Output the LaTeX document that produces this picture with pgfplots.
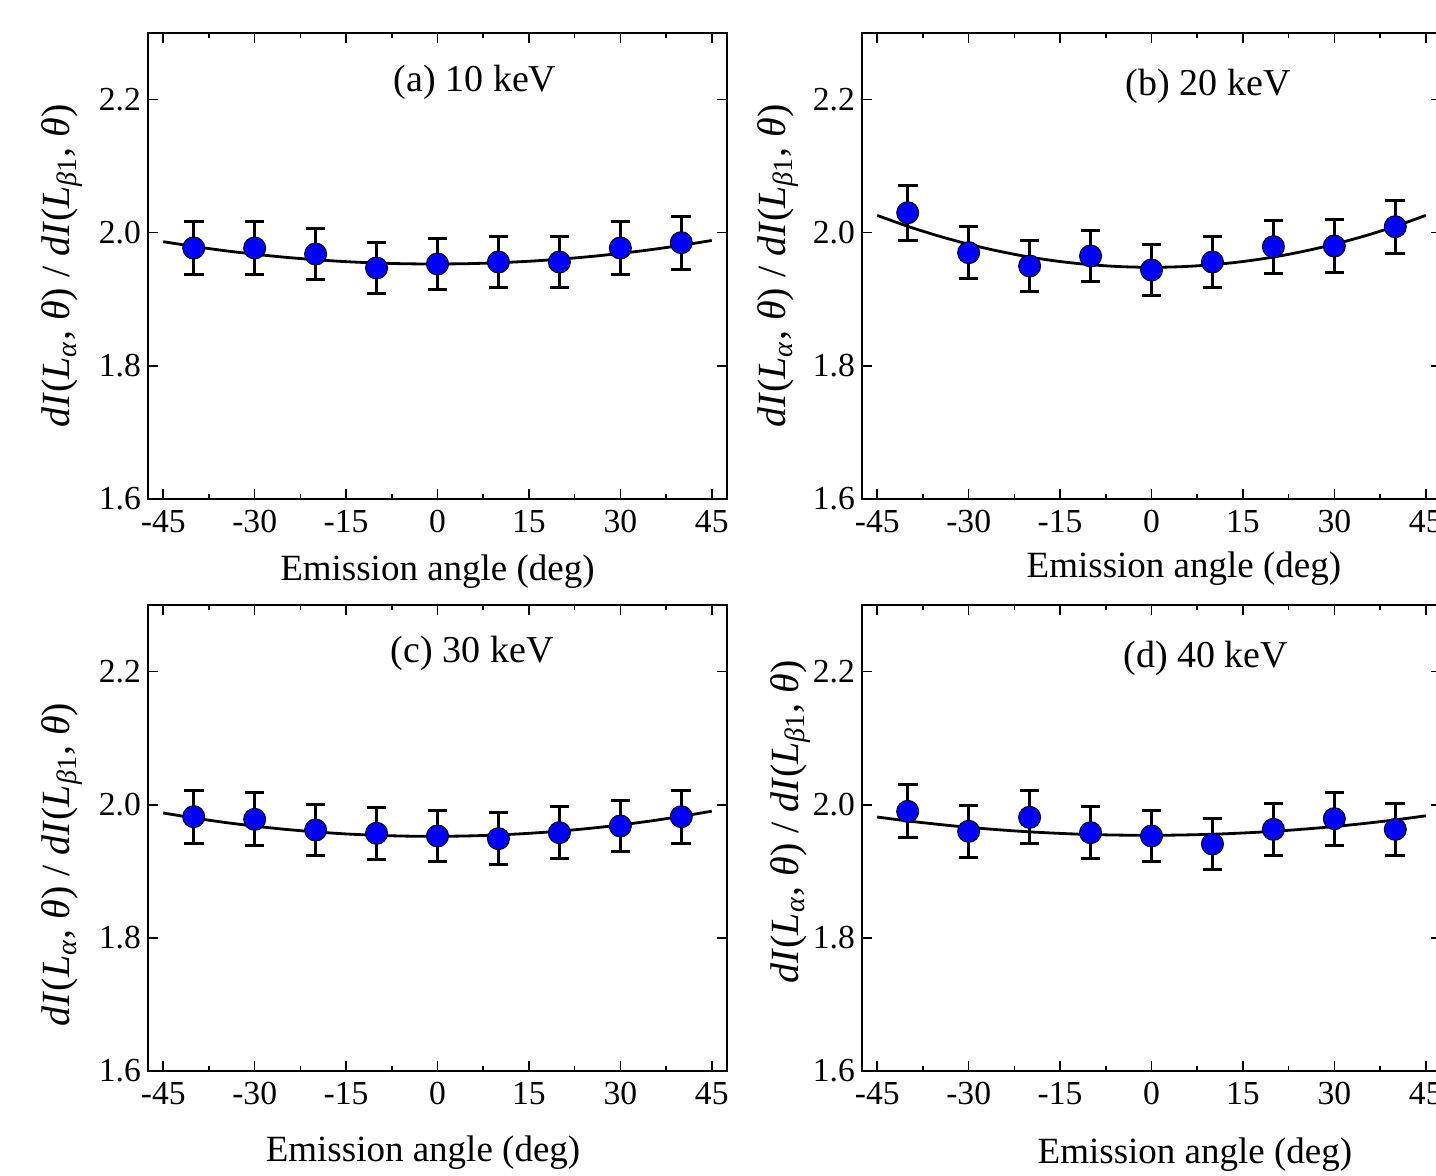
\documentclass[border=0pt]{standalone}
\usepackage{pgfplots}
\usepackage{pgfplotstable}
\pgfplotsset{compat=1.18}
\usepackage{fontspec}
\setmainfont{Liberation Serif}
\definecolor{ptblue}{RGB}{0,0,255}

\pgfplotstableread{
x y e
-40 1.977 0.040
-30 1.977 0.040
-20 1.968 0.039
-10 1.947 0.039
0 1.953 0.039
10 1.956 0.039
20 1.956 0.039
30 1.977 0.040
40 1.985 0.040
}\dataA
\pgfplotstableread{
x y e
-40 2.030 0.041
-30 1.970 0.039
-20 1.950 0.039
-10 1.965 0.039
0 1.944 0.039
10 1.956 0.039
20 1.979 0.040
30 1.980 0.040
40 2.009 0.040
}\dataB
\pgfplotstableread{
x y e
-40 1.982 0.040
-30 1.978 0.040
-20 1.962 0.039
-10 1.957 0.039
0 1.953 0.039
10 1.949 0.039
20 1.958 0.039
30 1.968 0.039
40 1.982 0.040
}\dataC
\pgfplotstableread{
x y e
-40 1.990 0.040
-30 1.960 0.039
-20 1.981 0.040
-10 1.958 0.039
0 1.953 0.039
10 1.941 0.039
20 1.963 0.039
30 1.979 0.040
40 1.963 0.039
}\dataD

\newcommand{\ylab}{\textit{dI}(\textit{L}\textsubscript{\textit{α}}, \textit{θ}) / \textit{dI}(\textit{L}\textsubscript{\textit{β}1}, \textit{θ})}

\pgfplotsset{
  panel/.style={
    scale only axis, width=289.5pt, height=233pt,
    anchor=south west,
    xmin=-47.5, xmax=47.5, ymin=1.6, ymax=2.3,
    xtick={-45,-30,-15,0,15,30,45},
    xticklabels={-45,-30,-15,0,15,30,45},
    minor x tick num=1,
    ytick={1.6,1.8,2.0,2.2},
    yticklabels={1.6,1.8,2.0,2.2},
    tick align=inside,
    major tick length=5pt, minor tick length=2.5pt,
    every tick/.style={black, line width=0.8pt},
    axis line style={line width=0.9pt},
    tick label style={font=\fontsize{16.8}{19}\selectfont},
    xticklabel style={yshift=-2pt},
    xlabel style={font=\fontsize{18.5}{22}\selectfont, anchor=center},
    ylabel style={font=\fontsize{20}{24}\selectfont, anchor=center},
    xlabel={Emission angle (deg)},
    ylabel={\ylab},
    clip=false,
  },
  ebar/.style={only marks, mark=none, forget plot,
    error bars/.cd, y dir=both, y explicit,
    error bar style={line width=1.5pt, black},
    error mark options={rotate=90, mark size=4.9pt, line width=1.5pt, black}},
  pts/.style={only marks, mark=*, mark size=5.5pt,
    mark options={fill=ptblue, draw=black, line width=0.5pt}},
  fit/.style={black, line width=1.4pt, smooth, mark=none},
}

\begin{document}
\begin{tikzpicture}
% (a)
\begin{axis}[panel, at={(74pt,338.5pt)},
  xlabel style={at={(axis description cs:0.5,-0.157)}},
  ylabel style={at={(axis description cs:-0.1485,0.5)}}]
\addplot[ebar] table[x=x,y=y,y error=e] {\dataA};
\addplot[pts] table[x=x,y=y] {\dataA};
\addplot[fit] coordinates {(-45,1.9865) (-40,1.9794) (-35,1.9731) (-30,1.9677) (-25,1.9631) (-20,1.9594) (-15,1.9565) (-10,1.9545) (-5,1.9533) (0,1.9530) (5,1.9535) (10,1.9549) (15,1.9571) (20,1.9602) (25,1.9641) (30,1.9689) (35,1.9745) (40,1.9810) (45,1.9883)};
\node[font=\fontsize{19}{22}\selectfont] at (rel axis cs:0.565,0.895) {(a) 10 keV};
\end{axis}
% (b)
\begin{axis}[panel, at={(431pt,338.5pt)},
  xlabel style={at={(axis description cs:0.556,-0.150)}},
  ylabel style={at={(axis description cs:-0.145,0.5)}}]
\addplot[ebar] table[x=x,y=y,y error=e] {\dataB};
\addplot[pts] table[x=x,y=y] {\dataB};
\addplot[fit] coordinates {(-45,2.0260) (-40,2.0096) (-35,1.9952) (-30,1.9827) (-25,1.9721) (-20,1.9634) (-15,1.9567) (-10,1.9519) (-5,1.9490) (0,1.9480) (5,1.9490) (10,1.9519) (15,1.9567) (20,1.9634) (25,1.9721) (30,1.9827) (35,1.9952) (40,2.0096) (45,2.0260)};
\node[font=\fontsize{19}{22}\selectfont] at (rel axis cs:0.598,0.886) {(b) 20 keV};
\end{axis}
% (c)
\begin{axis}[panel, at={(74pt,52.5pt)},
  xlabel style={at={(axis description cs:0.475,-0.1756)}},
  ylabel style={at={(axis description cs:-0.1485,0.443)}}]
\addplot[ebar] table[x=x,y=y,y error=e] {\dataC};
\addplot[pts] table[x=x,y=y] {\dataC};
\addplot[fit] coordinates {(-45,1.9876) (-40,1.9801) (-35,1.9735) (-30,1.9678) (-25,1.9630) (-20,1.9591) (-15,1.9561) (-10,1.9540) (-5,1.9528) (0,1.9525) (5,1.9531) (10,1.9546) (15,1.9570) (20,1.9603) (25,1.9645) (30,1.9696) (35,1.9756) (40,1.9825) (45,1.9903)};
\node[font=\fontsize{19}{22}\selectfont] at (rel axis cs:0.560,0.897) {(c) 30 keV};
\end{axis}
% (d)
\begin{axis}[panel, at={(431pt,52.5pt)},
  xlabel style={at={(axis description cs:0.575,-0.180)}},
  ylabel style={at={(axis description cs:-0.124,0.535)}}]
\addplot[ebar] table[x=x,y=y,y error=e] {\dataD};
\addplot[pts] table[x=x,y=y] {\dataD};
\addplot[fit] coordinates {(-45,1.9815) (-40,1.9756) (-35,1.9705) (-30,1.9660) (-25,1.9623) (-20,1.9592) (-15,1.9569) (-10,1.9552) (-5,1.9543) (0,1.9540) (5,1.9545) (10,1.9556) (15,1.9575) (20,1.9600) (25,1.9633) (30,1.9672) (35,1.9719) (40,1.9772) (45,1.9833)};
\node[font=\fontsize{19}{22}\selectfont] at (rel axis cs:0.594,0.886) {(d) 40 keV};
\end{axis}
\pgfresetboundingbox
\useasboundingbox (0,0) rectangle (718pt,588pt);
\end{tikzpicture}
\end{document}
